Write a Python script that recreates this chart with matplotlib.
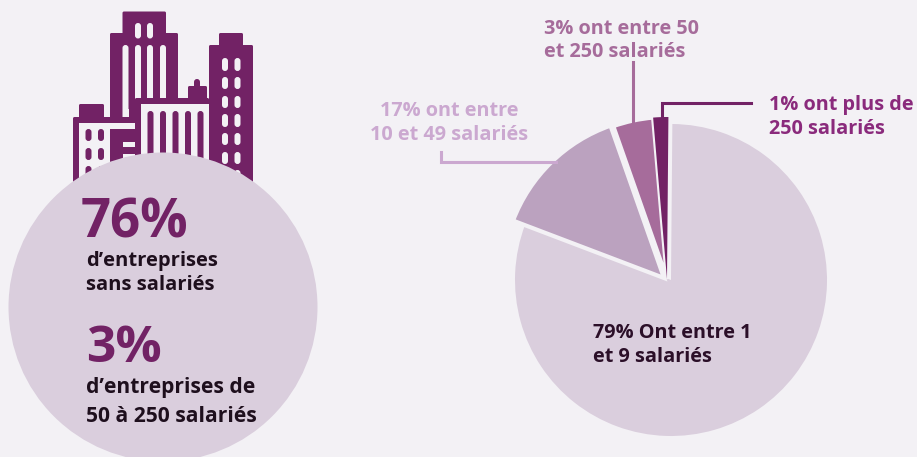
import matplotlib
matplotlib.use('Agg')
import matplotlib.pyplot as plt
from matplotlib.patches import Rectangle, FancyBboxPatch, Circle

W, H = 917, 457
BG = '#F3F1F5'
PURPLE = '#722265'
CIRCLE = '#DACEDD'

plt.rcParams['font.family'] = ['Open Sans', 'DejaVu Sans']

# Part sizes as drawn in the picture: the slices are not drawn to their labels
pie_labels = ['79% Ont entre 1\net 9 salariés', '17% ont entre\n10 et 49 salariés',
              '3% ont entre 50\net 250 salariés', '1% ont plus de\n250 salariés']
pie_sizes = [80.4, 13.8, 4.0, 1.5]
pie_colors = ['#DACEDD', '#BBA2BF', '#A66C9B', '#722265']
label_colors = ['#2B0F28', '#CBA8D0', '#A66C9B', '#8A2A7C']

big_numbers = ['76%', '3%']
captions = ['d’entreprises\nsans salariés', 'd’entreprises de\n50 à 250 salariés']

fig = plt.figure(figsize=(W / 100, H / 100), dpi=100, facecolor=BG)
ax = fig.add_axes([0, 0, 1, 1])


def Y(py):
    # pixel rows run downwards in the reference
    return H - py


def box(x0, y0, x1, y1, color=PURPLE, r=1.5):
    ax.add_patch(FancyBboxPatch((x0 + r, Y(y1) + r), x1 - x0 - 2 * r, y1 - y0 - 2 * r,
                                boxstyle='round,pad=%g,rounding_size=%g' % (r, r),
                                fc=color, ec='none'))


# tall tower
box(122.5, 11.5, 166, 40)
box(110, 33, 178, 120)
for x in [135, 147]:
    box(x, 23, x + 6, 38.5, BG, 3)
for x, bottom in [(122.5, 117), (135, 98), (147, 98), (160, 98)]:
    box(x, 45, x + 6, bottom + 3, BG, 3)
ax.add_patch(Rectangle((122.5, Y(117)), 6, 8, fc=BG, ec='none'))

# right tower
box(219, 33, 243, 50)
box(209, 45, 253, 185)
for x in [222, 234.5]:
    for top, bottom in [(58, 71), (77, 89), (96, 108), (114, 127), (133, 145), (152, 164), (170, 180)]:
        box(x, top, x + 6, bottom, BG, 3)

# middle block
box(188, 86, 207, 100)
box(194, 79, 200, 90, PURPLE, 3)
box(135, 98, 209, 185)
ax.add_patch(Rectangle((141, Y(160)), 68, 56, fc=BG, ec='none'))
for x in [147.5, 160, 172.5, 185, 197.5]:
    box(x, 111, x + 6, 165, PURPLE, 3)

# left block
box(79, 104, 104, 120)
box(73, 117, 135, 187)
ax.add_patch(Rectangle((79, Y(187)), 31, 64, fc=BG, ec='none'))
ax.add_patch(Rectangle((110, Y(129)), 25, 6, fc=BG, ec='none'))
ax.add_patch(Rectangle((123, Y(147)), 12, 5, fc=BG, ec='none'))
ax.add_patch(Rectangle((123, Y(159)), 12, 5, fc=BG, ec='none'))
for x in [85.5, 98]:
    for top, bottom in [(129, 141), (148, 160), (166, 178)]:
        box(x, top, x + 6, bottom, PURPLE, 3)

# big circle over the buildings
ax.add_patch(Circle((163, Y(307)), 154.5, fc=CIRCLE, ec='none', zorder=3))

ax.text(81, Y(223), big_numbers[0], color=PURPLE, fontsize=38, fontweight='bold',
        va='center', ha='left', zorder=4)
ax.text(86, Y(273), captions[0], color='#1E0F1D', fontsize=14.5, fontweight='bold',
        va='center', ha='left', linespacing=1.28, zorder=4)
ax.text(86, Y(349), big_numbers[1], color=PURPLE, fontsize=37, fontweight='bold',
        va='center', ha='left', zorder=4)
ax.text(86, Y(402), captions[1], color='#1E0F1D', fontsize=15.1, fontweight='bold',
        va='center', ha='left', linespacing=1.5, zorder=4)

# pie
wedges, _ = ax.pie(pie_sizes, colors=pie_colors, startangle=89.5, counterclock=False,
                   center=(667, Y(279)), radius=162, frame=True,
                   wedgeprops={'edgecolor': BG, 'linewidth': 3})
wedges[0].set_center((671, Y(280)))
wedges[0].set_radius(156)
wedges[0].set_edgecolor('none')
wedges[1].set_center((664, Y(278)))
wedges[1].set_radius(161.5)
wedges[3].set_edgecolor('none')

# leader lines
ax.plot([441, 441, 556], [Y(152), Y(162), Y(162)], color='#CBA8D0', lw=2.2, solid_joinstyle='miter')
ax.plot([633, 633], [Y(62), Y(121)], color=pie_colors[2], lw=2.2)
ax.plot([662, 662, 751], [Y(119), Y(103), Y(103)], color=PURPLE, lw=2.2, solid_joinstyle='miter')

ax.text(593, Y(345), pie_labels[0], color=label_colors[0], fontsize=14.3, fontweight='bold',
        va='center', ha='left', linespacing=1.25)
ax.text(449, Y(123), pie_labels[1], color=label_colors[1], fontsize=14.3, fontweight='bold',
        va='center', ha='center', linespacing=1.25)
ax.text(544, Y(40.5), pie_labels[2], color=label_colors[2], fontsize=14.3, fontweight='bold',
        va='center', ha='left', linespacing=1.25)
ax.text(769, Y(117), pie_labels[3], color=label_colors[3], fontsize=14.3, fontweight='bold',
        va='center', ha='left', linespacing=1.25)

ax.set_xlim(0, W)
ax.set_ylim(0, H)
ax.set_aspect('equal')
ax.axis('off')

fig.savefig('out.png', dpi=100, facecolor=BG)
